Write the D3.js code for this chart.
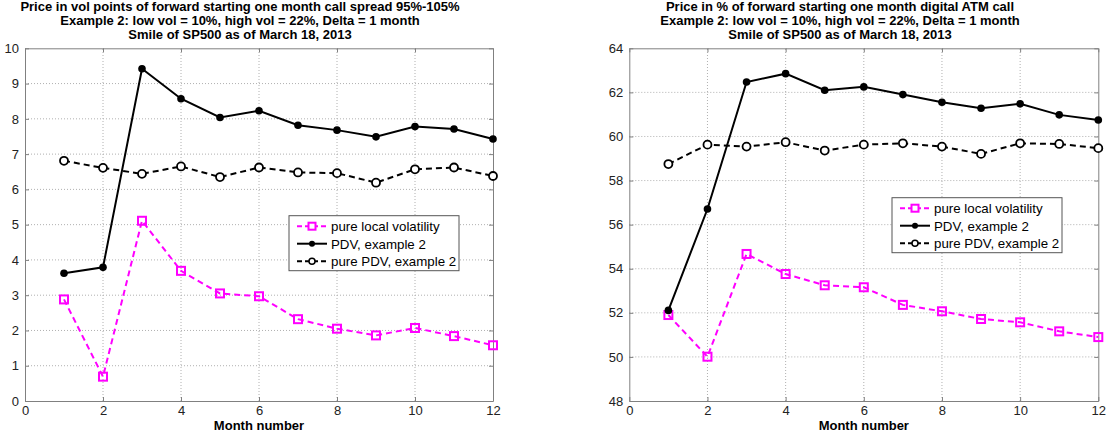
<!DOCTYPE html>
<html>
<head>
<meta charset="utf-8">
<script src="https://cdn.jsdelivr.net/npm/d3@7"></script>
<style>
  body { margin: 0; background: #fff; }
  text { font-family: "Liberation Sans", Arial, sans-serif; }
</style>
</head>
<body>
<script>
var months = [1, 2, 3, 4, 5, 6, 7, 8, 9, 10, 11, 12];
var xTicks = [0, 2, 4, 6, 8, 10, 12];

// left panel: call spread price in vol points
var spreadLV  = [2.88, 0.69, 5.11, 3.69, 3.05, 2.97, 2.32, 2.05, 1.86, 2.07, 1.84, 1.58];
var spreadPDV = [3.62, 3.79, 9.42, 8.57, 8.04, 8.23, 7.82, 7.68, 7.49, 7.78, 7.71, 7.43];
var spreadPurePDV = [6.81, 6.61, 6.44, 6.65, 6.35, 6.62, 6.48, 6.46, 6.19, 6.57, 6.62, 6.38];
var spreadYTicks = [0, 1, 2, 3, 4, 5, 6, 7, 8, 9, 10];
var spreadTitle = ["Price in vol points of forward starting one month call spread 95%-105%",
                   "Example 2: low vol = 10%, high vol = 22%, Delta = 1 month",
                   "Smile of SP500 as of March 18, 2013"];

// right panel: digital price in %
var digitalLV  = [51.90, 50.01, 54.67, 53.76, 53.25, 53.16, 52.36, 52.07, 51.72, 51.57, 51.16, 50.90];
var digitalPDV = [52.11, 56.71, 62.47, 62.85, 62.10, 62.25, 61.90, 61.55, 61.28, 61.48, 60.98, 60.75];
var digitalPurePDV = [58.75, 59.63, 59.54, 59.74, 59.36, 59.63, 59.69, 59.54, 59.21, 59.69, 59.66, 59.47];
var digitalYTicks = [48, 50, 52, 54, 56, 58, 60, 62, 64];
var digitalTitle = ["Price in % of forward starting one month digital ATM call",
                    "Example 2: low vol = 10%, high vol = 22%, Delta = 1 month",
                    "Smile of SP500 as of March 18, 2013"];

var legendLabels = ["pure local volatility", "PDV, example 2", "pure PDV, example 2"];

var width = 1109, height = 437;
var axisColor = "#808080";
var gridColor = "#b0b0b0";
var magenta = "#ff00ff";

var svg = d3.select("body").append("svg")
    .attr("width", width)
    .attr("height", height);

function drawPanel(p) {
  var x = d3.scaleLinear().domain([0, 12]).range([p.left, p.right]);
  var y = d3.scaleLinear().domain([p.yTicks[0], p.yTicks[p.yTicks.length - 1]]).range([401, 48.3]);
  var g = svg.append("g");

  // grid
  g.selectAll(".gx").data(xTicks.slice(1, -1)).enter().append("line")
      .attr("x1", d => x(d)).attr("x2", d => x(d))
      .attr("y1", y.range()[0]).attr("y2", y.range()[1])
      .attr("stroke", gridColor).attr("stroke-width", 1).attr("stroke-dasharray", "1,2");
  g.selectAll(".gy").data(p.yTicks.slice(1, -1)).enter().append("line")
      .attr("x1", p.left).attr("x2", p.right)
      .attr("y1", d => y(d)).attr("y2", d => y(d))
      .attr("stroke", gridColor).attr("stroke-width", 1).attr("stroke-dasharray", "1,2");

  // axes, ticks inward on all four sides
  var bottom = g.append("g").attr("transform", "translate(0," + y.range()[0] + ")")
      .call(d3.axisBottom(x).tickValues(xTicks).tickSizeInner(-4).tickSizeOuter(0).tickPadding(5));
  var left = g.append("g").attr("transform", "translate(" + p.left + ",0)")
      .call(d3.axisLeft(y).tickValues(p.yTicks).tickSizeInner(-4).tickSizeOuter(0).tickPadding(6));
  var top = g.append("g").attr("transform", "translate(0," + y.range()[1] + ")")
      .call(d3.axisTop(x).tickValues(xTicks).tickSizeInner(-4).tickSizeOuter(0).tickFormat(""));
  var right = g.append("g").attr("transform", "translate(" + p.right + ",0)")
      .call(d3.axisRight(y).tickValues(p.yTicks).tickSizeInner(-4).tickSizeOuter(0).tickFormat(""));
  [bottom, left, top, right].forEach(function(a) {
    a.selectAll("path, line").attr("stroke", axisColor);
    a.selectAll("text").attr("fill", "#222").style("font-size", "13px")
      .style("font-family", "'Liberation Sans', Arial, sans-serif");
  });

  g.append("text")
      .attr("x", (p.left + p.right) / 2).attr("y", 430)
      .attr("text-anchor", "middle")
      .style("font-size", "13px").style("font-weight", "bold")
      .text("Month number");

  g.selectAll(".title").data(p.title).enter().append("text")
      .attr("x", p.titleX).attr("y", (d, i) => 10.5 + i * 14.2)
      .attr("text-anchor", "middle")
      .style("font-size", "13px").style("font-weight", "bold")
      .text(d => d);

  var line = d3.line().x((d, i) => x(months[i])).y(d => y(d));

  // pure local volatility
  g.append("path").datum(p.lv).attr("d", line)
      .attr("fill", "none").attr("stroke", magenta).attr("stroke-width", 2).attr("stroke-dasharray", "6,4");
  g.selectAll(".sq").data(p.lv).enter().append("rect")
      .attr("x", (d, i) => x(months[i]) - 4).attr("y", d => y(d) - 4)
      .attr("width", 8).attr("height", 8)
      .attr("fill", "none").attr("stroke", magenta).attr("stroke-width", 2);

  // pure PDV
  g.append("path").datum(p.purePdv).attr("d", line)
      .attr("fill", "none").attr("stroke", "#000").attr("stroke-width", 2).attr("stroke-dasharray", "6,4");
  g.selectAll(".oc").data(p.purePdv).enter().append("circle")
      .attr("cx", (d, i) => x(months[i])).attr("cy", d => y(d)).attr("r", 4)
      .attr("fill", "#fff").attr("stroke", "#000").attr("stroke-width", 1.8);

  // PDV
  g.append("path").datum(p.pdv).attr("d", line)
      .attr("fill", "none").attr("stroke", "#000").attr("stroke-width", 2);
  g.selectAll(".fc").data(p.pdv).enter().append("circle")
      .attr("cx", (d, i) => x(months[i])).attr("cy", d => y(d)).attr("r", 3.8)
      .attr("fill", "#000");

  // legend
  var lg = g.append("g").attr("transform", "translate(" + p.legX + "," + p.legY + ")");
  lg.append("rect").attr("width", 170).attr("height", 55)
      .attr("fill", "#fff").attr("stroke", "#555").attr("stroke-width", 1);
  var rows = lg.selectAll(".row").data(legendLabels).enter().append("g")
      .attr("transform", (d, i) => "translate(0," + (10.5 + i * 17.5) + ")");
  rows.append("line").attr("x1", 8).attr("x2", 38).attr("y1", 0).attr("y2", 0)
      .attr("stroke", (d, i) => i === 0 ? magenta : "#000").attr("stroke-width", 2)
      .attr("stroke-dasharray", (d, i) => i === 1 ? null : "5,3");
  rows.filter((d, i) => i === 0).append("rect")
      .attr("x", 19.5).attr("y", -3.5).attr("width", 7).attr("height", 7)
      .attr("fill", "#fff").attr("stroke", magenta).attr("stroke-width", 2);
  rows.filter((d, i) => i === 1).append("circle")
      .attr("cx", 23).attr("cy", 0).attr("r", 3).attr("fill", "#000");
  rows.filter((d, i) => i === 2).append("circle")
      .attr("cx", 23).attr("cy", 0).attr("r", 3).attr("fill", "#fff")
      .attr("stroke", "#000").attr("stroke-width", 1.5);
  rows.append("text").attr("x", 42).attr("y", 5)
      .style("font-size", "13.3px").text(d => d);
}

drawPanel({
  left: 25, right: 493, yTicks: spreadYTicks, title: spreadTitle, titleX: 240,
  lv: spreadLV, pdv: spreadPDV, purePdv: spreadPurePDV, legX: 289, legY: 215.7
});
drawPanel({
  left: 629.3, right: 1098.3, yTicks: digitalYTicks, title: digitalTitle, titleX: 840,
  lv: digitalLV, pdv: digitalPDV, purePdv: digitalPurePDV, legX: 892, legY: 197.7
});
</script>
</body>
</html>
